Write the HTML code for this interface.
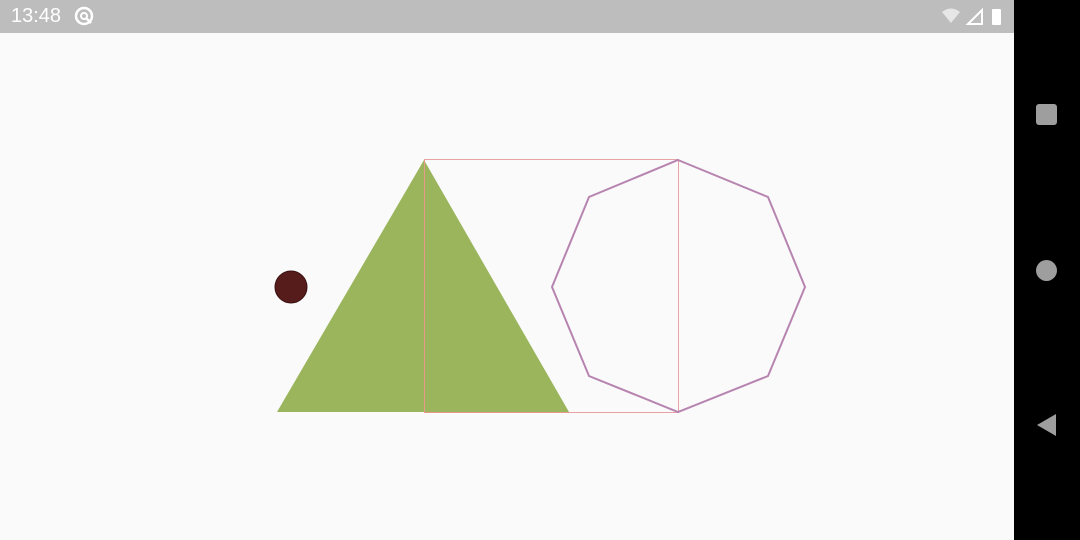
<!DOCTYPE html>
<html><head><meta charset="utf-8"><style>
html,body{margin:0;padding:0;width:1080px;height:540px;overflow:hidden;background:#fafafa;font-family:"Liberation Sans",sans-serif}
#status{position:absolute;left:0;top:0;width:1080px;height:33px;background:#bdbdbd}
#nav{position:absolute;left:1014px;top:0;width:66px;height:540px;background:#000}
</style></head><body>
<div id="status">
<span style="position:absolute;left:11px;top:5px;color:#fff;font-size:20px">13:48</span>
<svg style="position:absolute;left:74px;top:6px" width="22" height="22"><circle cx="10" cy="10" r="8" fill="none" stroke="#fff" stroke-width="2.5"/><circle cx="10" cy="10" r="3" fill="none" stroke="#fff" stroke-width="2"/><line x1="12" y1="12" x2="17" y2="17" stroke="#fff" stroke-width="2.5"/></svg>
<svg style="position:absolute;left:940px;top:6px" width="70" height="22"><path d="M2 6 Q11 -1 20 6 L11 17 Z" fill="#e6e6e6"/><path d="M28 18 L42 4 L42 18 Z" fill="none" stroke="#fff" stroke-width="2"/><rect x="52" y="3" width="9" height="16" rx="1" fill="#fff"/></svg>
</div>
<div id="nav">
<div style="position:absolute;left:22px;top:104px;width:21px;height:21px;background:#9e9e9e;border-radius:3px"></div>
<div style="position:absolute;left:22px;top:260px;width:21px;height:21px;background:#9e9e9e;border-radius:50%"></div>
<svg style="position:absolute;left:22px;top:414px" width="22" height="22"><path d="M20 0 L20 22 L1 11 Z" fill="#9e9e9e"/></svg>
</div>
<svg width="1014" height="507" style="position:absolute;left:0;top:33px">
<g transform="translate(0,-33)">
<rect x="424.5" y="159.5" width="254" height="253" fill="none" stroke="#e8a4a4" stroke-width="1"/>
<polygon points="424,160 277,412 569,412" fill="#9ab55c"/>
<line x1="424.5" y1="160" x2="424.5" y2="412" stroke="#e89a8a" stroke-width="1"/>
<line x1="424" y1="412.5" x2="569" y2="412.5" stroke="#e89a8a" stroke-width="1"/>
<polygon points="678,160 768,197 805,287 768,376 678,412 589,376 552,287 589,197" fill="none" stroke="#b784b0" stroke-width="2"/>
<circle cx="291" cy="287" r="16" fill="#561c1c" stroke="#3a1010" stroke-width="1"/>
</g></svg>
</body></html>
